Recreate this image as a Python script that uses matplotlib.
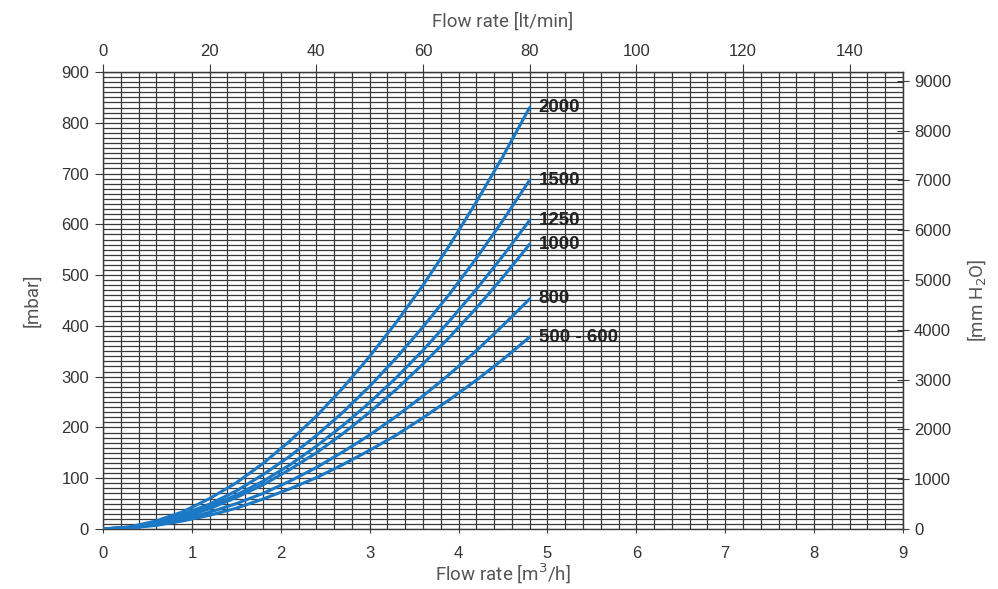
import matplotlib
matplotlib.use("Agg")
import matplotlib.pyplot as plt
import numpy as np

# ---- data ----
flow_m3h = [0.0, 0.3, 0.6, 0.9, 1.2, 1.5, 1.8, 2.1, 2.4, 2.7, 3.0, 3.3, 3.6, 3.9, 4.2, 4.5, 4.8]
curve_labels = ["2000", "1500", "1250", "1000", "800", "500 - 600"]
dp_2000 = [0, 4, 16, 34, 60, 91, 129, 173, 222, 278, 340, 407, 480, 559, 644, 734, 830]
dp_1500 = [0, 4, 13, 29, 49, 75, 107, 143, 184, 230, 281, 337, 398, 463, 533, 608, 687]
dp_1250 = [0, 3, 12, 25, 44, 67, 94, 126, 163, 204, 249, 298, 352, 410, 472, 538, 608]
dp_1000 = [0, 3, 11, 23, 40, 62, 87, 117, 150, 188, 230, 275, 325, 378, 435, 496, 561]
dp_800 = [0, 2, 9, 19, 33, 50, 70, 94, 121, 152, 185, 222, 262, 305, 351, 401, 453]
dp_500_600 = [0, 2, 7, 16, 27, 41, 59, 79, 101, 127, 155, 185, 219, 255, 293, 334, 378]
series = [dp_2000, dp_1500, dp_1250, dp_1000, dp_800, dp_500_600]

x_ticks = [0, 1, 2, 3, 4, 5, 6, 7, 8, 9]
y_ticks_mbar = [0, 100, 200, 300, 400, 500, 600, 700, 800, 900]
top_ticks_lpm = [0, 20, 40, 60, 80, 100, 120, 140]
right_ticks_mm = [0, 1000, 2000, 3000, 4000, 5000, 6000, 7000, 8000, 9000]
MBAR_TO_MMH2O = 10.197

plt.rcParams["font.family"] = ["Liberation Sans", "DejaVu Sans"]
label_font = ["Roboto", "DejaVu Sans"]
line_color = "#1b78c4"
grid_color = "#3a3a3a"
text_color = "#333333"
label_color = "#555555"

fig = plt.figure(figsize=(9.98, 5.89), dpi=100)
ax = fig.add_axes([0.1032, 0.1019, 0.8016, 0.7759])

ax.set_xlim(0, 9)
ax.set_ylim(0, 900)

# dense grid
ax.set_xticks(np.arange(0, 9.01, 0.2), minor=True)
ax.set_yticks(np.arange(0, 901, 10), minor=True)
ax.grid(which="minor", color=grid_color, linewidth=0.9)
ax.grid(which="major", color=grid_color, linewidth=0.9)
ax.set_axisbelow(True)
ax.tick_params(which="minor", length=0)

for s in ax.spines.values():
    s.set_color(grid_color)
    s.set_linewidth(1.0)

for vals in series:
    ax.plot(flow_m3h, vals, color=line_color, linewidth=2.2, solid_capstyle="round", zorder=3)

for lab, vals in zip(curve_labels, series):
    ax.text(flow_m3h[-1] + 0.1, vals[-1], lab, fontsize=13.5, fontweight="bold",
            color="#222222", va="center", ha="left", zorder=4)

ax.set_xticks(x_ticks)
ax.set_yticks(y_ticks_mbar)
ax.tick_params(axis="x", which="major", direction="inout", length=6, color=grid_color,
               labelsize=12, labelcolor=text_color, pad=9)
ax.tick_params(axis="y", which="major", direction="out", length=6, color=grid_color,
               labelsize=12, labelcolor=text_color, pad=4)

ax.set_xlabel("Flow rate [m$^3$/h]", fontsize=13.5, family=label_font, color=label_color, labelpad=1)
ax.set_ylabel("[mbar]", fontsize=13.5, family=label_font, color=label_color, labelpad=14)

# top axis in lt/min
top = ax.secondary_xaxis("top", functions=(lambda q: q * 1000 / 60, lambda l: l * 60 / 1000))
top.set_xticks(top_ticks_lpm)
top.tick_params(direction="out", length=6, color=grid_color, labelsize=12,
                labelcolor=text_color, pad=3)
top.set_xlabel("Flow rate [lt/min]", fontsize=13.5, family=label_font, color=label_color, labelpad=13)
top.spines["top"].set_color(grid_color)

# right axis in mm H2O
right = ax.secondary_yaxis("right", functions=(lambda m: m * MBAR_TO_MMH2O, lambda h: h / MBAR_TO_MMH2O))
right.set_yticks(right_ticks_mm)
right.tick_params(direction="inout", length=8, color=grid_color, labelsize=12,
                  labelcolor=text_color, pad=4)
right.set_ylabel("[mm H$_2$O]", fontsize=13.5, family=label_font, color=label_color, labelpad=10)
right.spines["right"].set_color(grid_color)

fig.savefig("out.png", dpi=100)
